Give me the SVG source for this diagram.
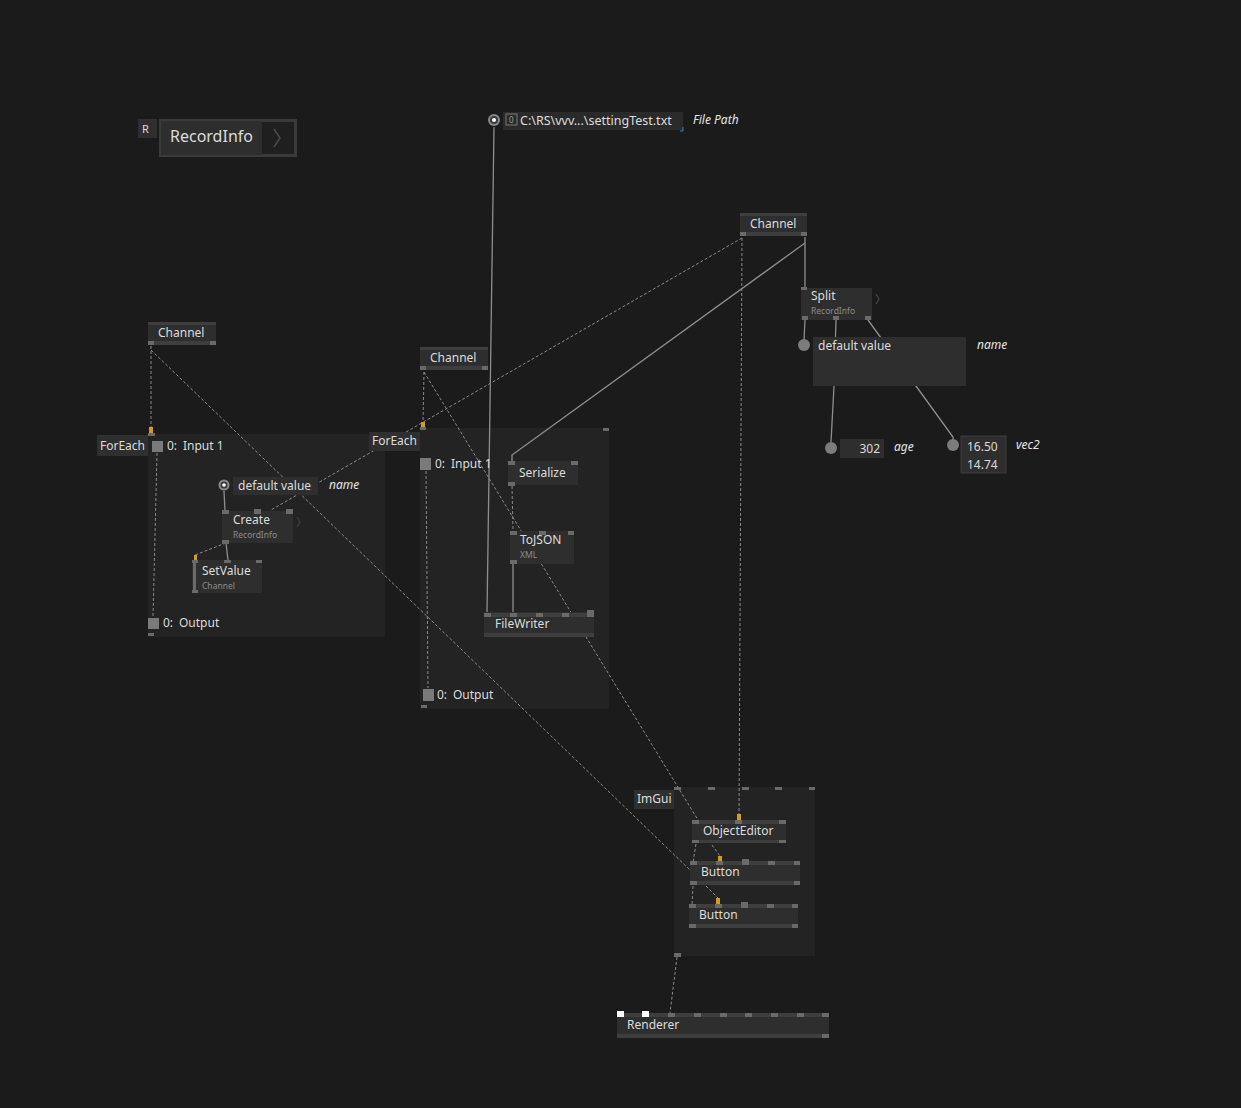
<svg xmlns="http://www.w3.org/2000/svg" width="1241" height="1108" viewBox="0 0 1241 1108">
<style>
text{font-family:"Noto Sans","Open Sans","DejaVu Sans",sans-serif;fill:#dcdcdc;font-size:12px}
.sub{font-size:8.5px;fill:#8c8c8c}
.it{font-style:italic;font-size:12px;fill:#e6e6e6}
.node{fill:#2e2e2e}
.bar{fill:#3e3e3e}
.pin{fill:#6a6a6a}
.region{fill:#232323}
.lbl{fill:#2f2f2f}
.ypin{fill:#d39c1c}
.sq{fill:#7a7a7a}
.solid{stroke:#8e8e8e;stroke-width:1.3;fill:none}
.dash{stroke:#8a8a8a;stroke-width:1;stroke-dasharray:3 2;fill:none}
.cir{fill:#7c7c7c}
</style>
<rect width="1241" height="1108" fill="#1b1b1b"/>

<g id="regions">
  <rect class="region" x="148" y="434" width="237" height="203"/>
  <rect class="region" x="420" y="428" width="189" height="281"/>
  <rect class="region" x="674" y="787" width="141" height="169"/>
</g>

<g id="connectors">
  <path class="solid" d="M494,127 L487,613"/>
  <path class="solid" d="M805,237 L805,290"/>
  <path class="solid" d="M805,243 L512,455 L512,462"/>
  <path class="solid" d="M805,320 L804,340"/>
  <path class="solid" d="M836,320 L834,386 L831,442"/>
  <path class="solid" d="M868,320 L916,386 L953,437 L953,440"/>
  <path class="solid" d="M224,491 L225,511"/>
  <path class="solid" d="M226,543 L228,560"/>
  <path class="solid" d="M513,563 L513,613"/>
  <path class="dash" d="M151,346 L151,428"/>
  <path class="dash" d="M151,350 L690,870"/>
  <path class="dash" d="M742,238 L271,510"/>
  <path class="dash" d="M742,238 L739,815"/>
  <path class="dash" d="M424,372 L423,423"/>
  <path class="dash" d="M424,372 L698,820"/>
  <path class="dash" d="M157,453 L153,617"/>
  <path class="dash" d="M426,471 L428,688"/>
  <path class="dash" d="M512,486 L513,530"/>
  <path class="dash" d="M226,543 L195,555"/>
  <path class="dash" d="M696,844 L693,862"/>
  <path class="dash" d="M712,845 L720,856"/>
  <path class="dash" d="M693,886 L692,905"/>
  <path class="dash" d="M706,886 L718,898"/>
  <path class="dash" d="M677,957 L670,1013"/>
</g>

<g id="recordinfo">
  <rect x="138" y="119" width="19" height="19" fill="#2f2f2f"/>
  <text x="142" y="133" style="font-size:11px">R</text>
  <rect x="159" y="119" width="138" height="38" fill="#3a3a3a"/>
  <rect x="161" y="121" width="101" height="34" fill="#2e2e2e"/>
  <rect x="262" y="122" width="32" height="32" fill="#1f1f1f"/>
  <path d="M274,129 L280,138 L274,147" stroke="#4a4a4a" stroke-width="1.5" fill="none"/>
  <text x="170" y="142" style="font-size:16px">RecordInfo</text>
</g>

<g id="filepath">
  <circle cx="494" cy="120" r="6" fill="#8a8a8a"/>
  <circle cx="494" cy="120" r="4" fill="#3a3a3a"/>
  <circle cx="494" cy="120" r="2" fill="#ffffff"/>
  <rect x="503" y="112" width="180" height="18" fill="#2a2a2a"/>
  <rect x="506" y="114" width="11" height="11" fill="none" stroke="#7a7a7a" stroke-width="1"/>
  <text x="509" y="123" style="font-size:8px;fill:#9a9a9a">0</text>
  <text x="520" y="125" style="font-size:12.5px">C:\RS\vvv...\settingTest.txt</text>
  <path d="M680,131 L683,131 L683,127" stroke="#3d7fc0" stroke-width="1" fill="none"/>
  <text class="it" x="693" y="124">File Path</text>
</g>

<g id="channel-top">
  <rect class="node" x="740" y="213" width="67" height="23"/>
  <rect class="bar" x="740" y="213" width="67" height="3"/>
  <rect class="bar" x="740" y="232" width="67" height="4"/>
  <rect class="pin" x="740" y="232" width="6" height="4"/>
  <rect class="pin" x="801" y="232" width="6" height="4"/>
  <text x="750" y="228">Channel</text>
</g>

<g id="split">
  <rect class="node" x="801" y="288" width="71" height="32"/>
  <rect class="pin" x="801" y="287" width="6" height="3"/>
  <rect class="pin" x="802" y="316" width="6" height="4"/>
  <rect class="pin" x="833" y="316" width="6" height="4"/>
  <rect class="pin" x="865" y="316" width="6" height="4"/>
  <text x="811" y="300">Split</text>
  <text class="sub" x="811" y="314">RecordInfo</text>
  <path d="M876,294 L879,299 L876,304" stroke="#474747" stroke-width="1.2" fill="none"/>
</g>

<g id="name-io">
  <circle class="cir" cx="804" cy="345" r="6"/>
  <rect class="node" x="813" y="337" width="153" height="49"/>
  <text x="818" y="350">default value</text>
  <text class="it" x="977" y="349">name</text>
</g>

<g id="age-io">
  <circle class="cir" cx="831" cy="448" r="6"/>
  <rect class="node" x="840" y="439" width="44" height="19"/>
  <text x="880" y="453" text-anchor="end">302</text>
  <text class="it" x="894" y="451">age</text>
</g>

<g id="vec2-io">
  <circle class="cir" cx="953" cy="445" r="6"/>
  <rect class="node" x="961" y="436" width="45" height="37" stroke="#3c3c3c" stroke-width="1"/>
  <text x="967" y="451">16.50</text>
  <text x="967" y="469">14.74</text>
  <text class="it" x="1016" y="449">vec2</text>
</g>

<g id="channel-left">
  <rect class="node" x="148" y="322" width="68" height="23"/>
  <rect class="bar" x="148" y="322" width="68" height="3"/>
  <rect class="bar" x="148" y="341" width="68" height="4"/>
  <rect class="pin" x="148" y="341" width="6" height="4"/>
  <rect class="pin" x="210" y="341" width="6" height="4"/>
  <text x="158" y="337">Channel</text>
</g>

<g id="channel-mid">
  <rect class="node" x="420" y="347" width="68" height="23"/>
  <rect class="bar" x="420" y="347" width="68" height="3"/>
  <rect class="bar" x="420" y="366" width="68" height="4"/>
  <rect class="pin" x="420" y="366" width="6" height="4"/>
  <rect class="pin" x="482" y="366" width="6" height="4"/>
  <text x="430" y="362">Channel</text>
</g>

<g id="foreach-left">
  <rect class="lbl" x="97" y="435" width="51" height="21"/>
  <text x="100" y="450">ForEach</text>
  <rect class="pin" x="148" y="433" width="7" height="3"/>
  <rect class="ypin" x="149" y="427" width="4" height="6"/>
  <rect class="sq" x="152" y="441" width="11" height="11"/>
  <text x="167" y="450">0:<tspan x="183">Input 1</tspan></text>
  <rect class="sq" x="148" y="618" width="11" height="11"/>
  <text x="163" y="627">0:<tspan x="179">Output</tspan></text>
  <rect class="pin" x="148" y="633" width="6" height="3"/>
</g>

<g id="defaultvalue-left">
  <circle cx="224" cy="485" r="5.5" fill="#8a8a8a"/>
  <circle cx="224" cy="485" r="3.5" fill="#3a3a3a"/>
  <circle cx="224" cy="485" r="1.8" fill="#ffffff"/>
  <rect class="node" x="233" y="477" width="85" height="18"/>
  <text x="238" y="490">default value</text>
  <text class="it" x="329" y="489">name</text>
</g>

<g id="create">
  <rect class="node" x="222" y="511" width="71" height="32"/>
  <rect class="pin" x="222" y="510" width="7" height="4"/>
  <rect class="pin" x="254" y="509" width="7" height="5"/>
  <rect class="pin" x="286" y="509" width="7" height="5"/>
  <rect class="pin" x="222" y="540" width="7" height="4"/>
  <text x="233" y="524">Create</text>
  <text class="sub" x="233" y="538">RecordInfo</text>
  <path d="M297,517 L300,522 L297,527" stroke="#3c3c3c" stroke-width="1.2" fill="none"/>
</g>

<g id="setvalue">
  <rect class="node" x="192" y="560" width="70" height="33"/>
  <rect class="pin" x="193" y="560" width="3" height="33"/>
  <rect class="pin" x="192" y="560" width="6" height="3"/>
  <rect class="pin" x="224" y="560" width="7" height="3"/>
  <rect class="pin" x="256" y="560" width="6" height="3"/>
  <rect class="pin" x="192" y="590" width="6" height="3"/>
  <rect class="ypin" x="194" y="555" width="3" height="5"/>
  <text x="202" y="575">SetValue</text>
  <text class="sub" x="202" y="589">Channel</text>
</g>

<g id="foreach-mid">
  <rect class="lbl" x="369" y="432" width="51" height="19"/>
  <text x="372" y="445">ForEach</text>
  <rect class="pin" x="420" y="427" width="6" height="3"/>
  <rect class="ypin" x="421" y="422" width="4" height="5"/>
  <rect class="pin" x="603" y="428" width="6" height="3"/>
  <rect class="sq" x="420" y="458" width="11" height="12"/>
  <text x="435" y="468">0:<tspan x="451">Input 1</tspan></text>
  <rect class="sq" x="423" y="689" width="11" height="12"/>
  <text x="437" y="699">0:<tspan x="453">Output</tspan></text>
  <rect class="pin" x="421" y="705" width="6" height="3"/>
</g>

<g id="serialize">
  <rect class="node" x="508" y="461" width="70" height="24"/>
  <rect class="pin" x="508" y="461" width="7" height="4"/>
  <rect class="pin" x="571" y="461" width="7" height="4"/>
  <rect class="pin" x="508" y="482" width="7" height="4"/>
  <text x="519" y="477">Serialize</text>
</g>

<g id="tojson">
  <rect class="node" x="510" y="531" width="64" height="33"/>
  <rect class="pin" x="510" y="531" width="7" height="4"/>
  <rect class="pin" x="539" y="531" width="7" height="4"/>
  <rect class="pin" x="568" y="531" width="6" height="4"/>
  <rect class="pin" x="510" y="560" width="7" height="4"/>
  <text x="520" y="544">ToJSON</text>
  <text class="sub" x="520" y="558">XML</text>
</g>

<g id="filewriter">
  <rect class="node" x="484" y="612" width="110" height="25"/>
  <rect class="bar" x="484" y="613" width="110" height="4"/>
  <rect class="bar" x="484" y="633" width="110" height="4"/>
  <rect class="pin" x="484" y="613" width="7" height="4"/>
  <rect class="pin" x="510" y="613" width="7" height="4"/>
  <rect class="pin" x="536" y="613" width="7" height="4"/>
  <rect class="pin" x="562" y="613" width="7" height="4"/>
  <rect class="pin" x="587" y="610" width="7" height="7"/>
  <text x="495" y="628">FileWriter</text>
</g>

<g id="imgui">
  <rect class="lbl" x="634" y="790" width="40" height="19"/>
  <text x="637" y="803">ImGui</text>
  <rect class="pin" x="674" y="787" width="7" height="3"/>
  <rect class="pin" x="708" y="787" width="7" height="3"/>
  <rect class="pin" x="742" y="787" width="7" height="3"/>
  <rect class="pin" x="775" y="787" width="7" height="3"/>
  <rect class="pin" x="809" y="787" width="6" height="3"/>
  <rect class="pin" x="674" y="953" width="7" height="4"/>
</g>

<g id="objecteditor">
  <rect class="node" x="692" y="820" width="94" height="23"/>
  <rect class="bar" x="692" y="820" width="94" height="4"/>
  <rect class="bar" x="692" y="840" width="94" height="3"/>
  <rect class="pin" x="692" y="820" width="7" height="4"/>
  <rect class="pin" x="735" y="820" width="7" height="4"/>
  <rect class="pin" x="779" y="820" width="7" height="4"/>
  <rect class="pin" x="692" y="840" width="7" height="3"/>
  <rect class="pin" x="779" y="840" width="7" height="3"/>
  <rect class="ypin" x="737" y="814" width="4" height="6"/>
  <text x="703" y="835">ObjectEditor</text>
</g>

<g id="button1">
  <rect class="node" x="690" y="861" width="110" height="24"/>
  <rect class="bar" x="690" y="861" width="110" height="4"/>
  <rect class="bar" x="690" y="881" width="110" height="4"/>
  <rect class="pin" x="690" y="861" width="7" height="4"/>
  <rect class="pin" x="716" y="861" width="7" height="4"/>
  <rect class="pin" x="742" y="859" width="7" height="6"/>
  <rect class="pin" x="768" y="861" width="7" height="4"/>
  <rect class="pin" x="794" y="861" width="6" height="4"/>
  <rect class="pin" x="690" y="881" width="7" height="4"/>
  <rect class="pin" x="794" y="881" width="6" height="4"/>
  <rect class="ypin" x="718" y="856" width="4" height="5"/>
  <text x="701" y="876">Button</text>
</g>

<g id="button2">
  <rect class="node" x="689" y="904" width="109" height="24"/>
  <rect class="bar" x="689" y="904" width="109" height="4"/>
  <rect class="bar" x="689" y="924" width="109" height="4"/>
  <rect class="pin" x="689" y="904" width="7" height="4"/>
  <rect class="pin" x="715" y="904" width="7" height="4"/>
  <rect class="pin" x="741" y="902" width="7" height="6"/>
  <rect class="pin" x="767" y="904" width="7" height="4"/>
  <rect class="pin" x="792" y="904" width="6" height="4"/>
  <rect class="pin" x="689" y="924" width="7" height="4"/>
  <rect class="pin" x="792" y="924" width="6" height="4"/>
  <rect class="ypin" x="716" y="898" width="4" height="6"/>
  <text x="699" y="919">Button</text>
</g>

<g id="renderer">
  <rect class="node" x="617" y="1013" width="212" height="25"/>
  <rect class="bar" x="617" y="1013" width="212" height="4"/>
  <rect class="bar" x="617" y="1034" width="212" height="4"/>
  <rect x="617" y="1011" width="7" height="6" fill="#ffffff"/>
  <rect x="642" y="1011" width="7" height="6" fill="#ffffff"/>
  <rect class="pin" x="668" y="1013" width="7" height="4"/>
  <rect class="pin" x="694" y="1013" width="7" height="4"/>
  <rect class="pin" x="720" y="1013" width="7" height="4"/>
  <rect class="pin" x="745" y="1013" width="7" height="4"/>
  <rect class="pin" x="771" y="1013" width="7" height="4"/>
  <rect class="pin" x="797" y="1013" width="7" height="4"/>
  <rect class="pin" x="822" y="1013" width="7" height="4"/>
  <rect class="pin" x="822" y="1034" width="7" height="4"/>
  <text x="627" y="1029">Renderer</text>
</g>
</svg>
